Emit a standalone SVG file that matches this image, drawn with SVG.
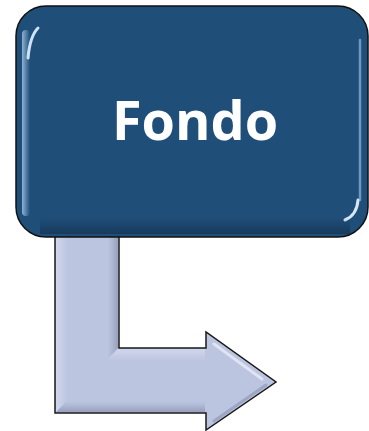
<svg xmlns="http://www.w3.org/2000/svg" width="369" height="431" viewBox="0 0 369 431">
  <style>
    .box { fill: #1f4e79; stroke: #111; stroke-width: 1.5; }
    .bend { fill: #bcc5e0; stroke: #1a1a1a; stroke-width: 1.5; stroke-linejoin: miter; }
    .label { font-family: "Open Sans", "Liberation Sans", sans-serif; font-weight: bold; fill: #ffffff; }
  </style>
  <defs>
    <linearGradient id="edgeL" x1="0" y1="0" x2="1" y2="0">
      <stop offset="0" stop-color="#a9cbea" stop-opacity="0.8"/>
      <stop offset="1" stop-color="#a9cbea" stop-opacity="0"/>
    </linearGradient>
    <linearGradient id="edgeB" x1="0" y1="1" x2="0" y2="0">
      <stop offset="0" stop-color="#0d2238" stop-opacity="0.45"/>
      <stop offset="1" stop-color="#0d2238" stop-opacity="0"/>
    </linearGradient>
    <linearGradient id="shadeV" gradientUnits="userSpaceOnUse" x1="55" y1="0" x2="119" y2="0">
      <stop offset="0" stop-color="#e8ecf8" stop-opacity="0.5"/>
      <stop offset="0.2" stop-color="#e8ecf8" stop-opacity="0"/>
      <stop offset="0.82" stop-color="#7e88a8" stop-opacity="0"/>
      <stop offset="1" stop-color="#6f7898" stop-opacity="0.55"/>
    </linearGradient>
    <linearGradient id="shadeH" gradientUnits="userSpaceOnUse" x1="0" y1="348" x2="0" y2="413">
      <stop offset="0" stop-color="#e8ecf8" stop-opacity="0.5"/>
      <stop offset="0.2" stop-color="#e8ecf8" stop-opacity="0"/>
      <stop offset="0.82" stop-color="#7e88a8" stop-opacity="0"/>
      <stop offset="1" stop-color="#6f7898" stop-opacity="0.55"/>
    </linearGradient>
  </defs>

  <!-- bent arrow leaving the bottom of the box -->
  <g id="connectors">
    <path class="bend" d="M55,236 L119,236 L119,348 L206,348 L206,332 L276,382 L206,430 L206,413 L55,413 Z"/>
    <!-- bevel shading, split along the mitred corner -->
    <path d="M56,237 L118,237 L118,348 L56,412 Z" fill="url(#shadeV)"/>
    <path d="M56,412 L118,349 L205,349 L205,412 Z" fill="url(#shadeH)"/>
    <path d="M214,344 L262,379" stroke="#eef2fb" stroke-width="3" stroke-linecap="round" opacity="0.7"/>
    <path d="M214,421 L266,385" stroke="#6f7898" stroke-width="3" stroke-linecap="round" opacity="0.4"/>
  </g>

  <!-- main node -->
  <g id="node-fondo">
    <rect class="box" x="16" y="6" width="352" height="231" rx="30" ry="30"/>
    <rect x="22" y="30" width="8" height="186" rx="4" fill="url(#edgeL)"/>
    <path d="M28,58 Q30,36 38,28" stroke="#cfe3f6" stroke-width="3" fill="none" stroke-linecap="round"/>
    <path d="M360,40 L360,200" stroke="#8fb6dc" stroke-width="2.5" stroke-linecap="round" opacity="0.7"/>
    <path d="M358,200 Q357,215 345,220" stroke="#d6e7f7" stroke-width="3" fill="none" stroke-linecap="round"/>
    <rect x="40" y="218" width="310" height="16" fill="url(#edgeB)"/>
    <text class="label" x="195" y="140" font-size="54" text-anchor="middle">Fondo</text>
  </g>
</svg>
